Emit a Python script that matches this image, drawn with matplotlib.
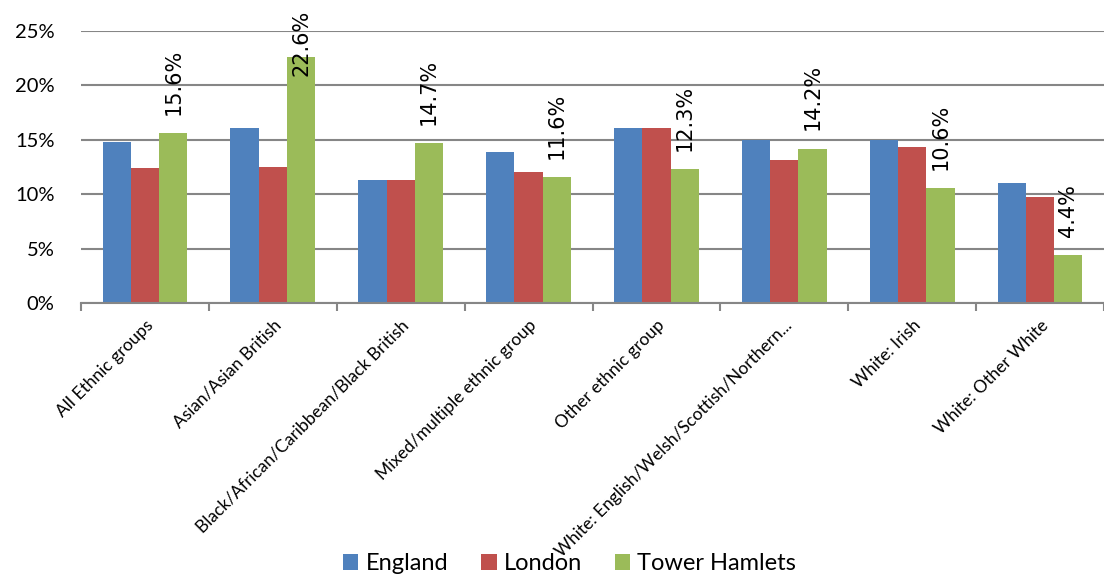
import numpy as np
import matplotlib.pyplot as plt
from matplotlib.ticker import FixedLocator, FuncFormatter

# valeurs (%)
categories = ["All Ethnic groups", "Asian/Asian British", "Black/African/Caribbean/Black British",
              "Mixed/multiple ethnic group", "Other ethnic group",
              "White: English/Welsh/Scottish/Northern...", "White: Irish", "White: Other White"]
england = [14.8, 16.1, 11.3, 13.9, 16.1, 15.0, 15.0, 11.0]
london = [12.4, 12.5, 11.3, 12.0, 16.1, 13.1, 14.3, 9.7]
tower_hamlets = [15.6, 22.6, 14.7, 11.6, 12.3, 14.2, 10.6, 4.4]
series = ["England", "London", "Tower Hamlets"]
colors = ["#4F81BD", "#C0504D", "#9BBB59"]

plt.rcParams['font.family'] = ['Lato', 'DejaVu Sans']

fig = plt.figure(figsize=(11.04, 5.81), dpi=100)
ax = fig.add_axes([81/1104, 1 - 303/581, 1 - 81/1104, (303 - 31)/581])

x = np.arange(len(categories))
w = 0.221
for i, (vals, name, c) in enumerate(zip([england, london, tower_hamlets], series, colors)):
    ax.bar(x + (i - 1) * w, vals, w, color=c, label=name, zorder=3)

ax.set_xlim(-0.5, len(categories) - 0.5)
ax.set_ylim(0, 25)
ax.set_yticks([0, 5, 10, 15, 20, 25])
ax.yaxis.set_major_formatter(FuncFormatter(lambda v, p: "%d%%" % v))
ax.tick_params(axis='y', length=0, labelsize=14.5, pad=19)
ax.grid(axis='y', color='#868686', linewidth=1.5, zorder=0)

# etiquettes de la serie Tower Hamlets
for xi, v in zip(x + w, tower_hamlets):
    if v > 20:
        # trop haut : collee en haut du graphique
        fig.text(ax.transData.transform((xi, 0))[0] / fig.bbox.width, 1 - 10/581,
                 "%.1f%%" % v, rotation=90, ha='center', va='top',
                 fontsize=15, family='DejaVu Sans')
    else:
        ax.annotate("%.1f%%" % v, (xi, v), xytext=(0, 13), textcoords='offset points',
                    rotation=90, ha='center', va='bottom', fontsize=15,
                    family='DejaVu Sans', annotation_clip=False)

ax.set_xticks(x)
ax.set_xticklabels(categories, rotation=45, ha='right', va='top', rotation_mode='anchor',
                   fontsize=12.5)
ax.tick_params(axis='x', which='major', length=0, pad=10)
ax.xaxis.set_minor_locator(FixedLocator(np.arange(len(categories) + 1) - 0.5))
ax.tick_params(axis='x', which='minor', length=6, width=1.5, color='#868686')

for s in ['top', 'right', 'left']:
    ax.spines[s].set_visible(False)
ax.spines['bottom'].set_color('#868686')
ax.spines['bottom'].set_linewidth(1.5)
ax.spines['bottom'].set_zorder(4)

fig.legend(loc='lower center', bbox_to_anchor=(0.516, -0.025), ncol=3, frameon=False,
           fontsize=17, handlelength=0.65, handleheight=0.65, handletextpad=0.3,
           columnspacing=1.4)

fig.savefig("out.png", dpi=100)
